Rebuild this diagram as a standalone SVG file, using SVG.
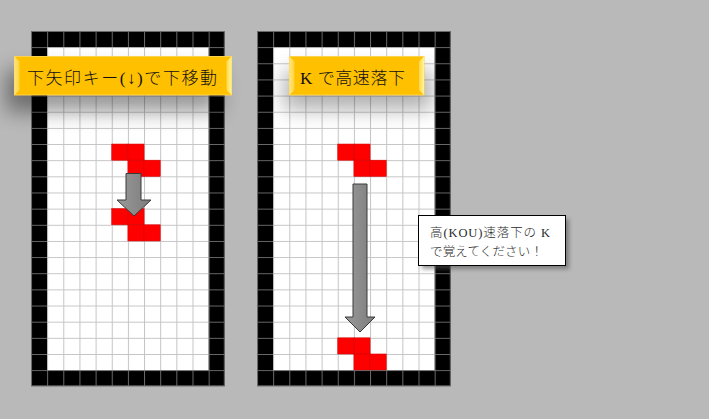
<svg xmlns="http://www.w3.org/2000/svg" width="709" height="419" viewBox="0 0 709 419">
  <defs>
    <style>
      .jp { font-family: "Liberation Serif", "Noto Sans CJK JP", serif; font-weight: 300; fill: #111; }
      .banner-txt { font-size: 17px; }
      .note-txt { font-size: 12.5px; fill: #2a2a2a; }
      .red { fill: #ff0000; stroke: #d40000; stroke-width: 0.6; }
      .arrow { fill: url(#arrowGrad); stroke: #3a3a3a; stroke-width: 1; }
      .banner { fill: #ffc000; stroke: #ffd24d; stroke-width: 1; }
    </style>
    <pattern id="grid" width="16.15" height="16.15" patternUnits="userSpaceOnUse">
      <rect width="16.15" height="16.15" fill="#ffffff"/>
      <path d="M0 0.5H16.15M0.5 0V16.15" stroke="#c4c4c4" stroke-width="1" fill="none"/>
    </pattern>
    <pattern id="frame" width="16.15" height="16.15" patternUnits="userSpaceOnUse">
      <rect width="16.15" height="16.15" fill="#000000"/>
      <path d="M0 0.5H16.15M0.5 0V16.15" stroke="#6a6a6a" stroke-width="1" fill="none"/>
    </pattern>
    <linearGradient id="arrowGrad" x1="0" y1="0" x2="1" y2="0">
      <stop offset="0" stop-color="#9a9a9a"/>
      <stop offset="1" stop-color="#7c7c7c"/>
    </linearGradient>
    <linearGradient id="bevelL" x1="0" y1="0" x2="1" y2="0">
      <stop offset="0" stop-color="#ffe680"/>
      <stop offset="1" stop-color="#ffd23a"/>
    </linearGradient>
    <linearGradient id="bevelR" x1="0" y1="0" x2="1" y2="0">
      <stop offset="0" stop-color="#ffd84a"/>
      <stop offset="1" stop-color="#fff59a"/>
    </linearGradient>
    <filter id="softShadow" x="-30%" y="-80%" width="160%" height="260%">
      <feGaussianBlur stdDeviation="10"/>
    </filter>
    <filter id="boxShadow" x="-20%" y="-30%" width="140%" height="160%">
      <feGaussianBlur stdDeviation="2"/>
    </filter>
  </defs>

  <rect width="709" height="419" fill="#b9b9b9"/>

  <g id="board-left" transform="translate(31,31)">
    <rect width="193.8" height="355.3" fill="url(#grid)"/>
    <rect class="red" x="80.75" y="113.05" width="16.15" height="16.15"/>
    <rect class="red" x="96.9" y="113.05" width="16.15" height="16.15"/>
    <rect class="red" x="96.9" y="129.2" width="16.15" height="16.15"/>
    <rect class="red" x="113.05" y="129.2" width="16.15" height="16.15"/>
    <rect class="red" x="80.75" y="177.65" width="16.15" height="16.15"/>
    <rect class="red" x="96.9" y="177.65" width="16.15" height="16.15"/>
    <rect class="red" x="96.9" y="193.8" width="16.15" height="16.15"/>
    <rect class="red" x="113.05" y="193.8" width="16.15" height="16.15"/>
    <path fill="url(#frame)" fill-rule="evenodd" d="M0 0H193.8V355.3H0Z M16.15 16.15V339.15H177.65V16.15Z"/>
    <rect x="0.5" y="0.5" width="192.8" height="354.3" fill="none" stroke="#6a6a6a"/>
  </g>

  <g id="board-right" transform="translate(257,31)">
    <rect width="193.8" height="355.3" fill="url(#grid)"/>
    <rect class="red" x="80.75" y="113.05" width="16.15" height="16.15"/>
    <rect class="red" x="96.9" y="113.05" width="16.15" height="16.15"/>
    <rect class="red" x="96.9" y="129.2" width="16.15" height="16.15"/>
    <rect class="red" x="113.05" y="129.2" width="16.15" height="16.15"/>
    <rect class="red" x="80.75" y="306.85" width="16.15" height="16.15"/>
    <rect class="red" x="96.9" y="306.85" width="16.15" height="16.15"/>
    <rect class="red" x="96.9" y="323" width="16.15" height="16.15"/>
    <rect class="red" x="113.05" y="323" width="16.15" height="16.15"/>
    <path fill="url(#frame)" fill-rule="evenodd" d="M0 0H193.8V355.3H0Z M16.15 16.15V339.15H177.65V16.15Z"/>
    <rect x="0.5" y="0.5" width="192.8" height="354.3" fill="none" stroke="#6a6a6a"/>
  </g>

  <g id="arrows">
    <path class="arrow" d="M126 173.5H141V200H151L134 216L117 200H126Z"/>
    <path class="arrow" d="M353 184H367V317H375L360 332L345 317H353Z"/>
  </g>

  <g id="banner-left">
    <rect x="6" y="70" width="214" height="42" fill="#000" opacity="0.4" filter="url(#softShadow)"/>
    <rect class="banner" x="14.5" y="56.5" width="217" height="38.5"/>
    <polygon points="14.5,56.5 19.5,61.5 19.5,90 14.5,95" fill="url(#bevelL)"/>
    <polygon points="231.5,56.5 226.5,61.5 226.5,90 231.5,95" fill="url(#bevelR)"/>
    <text class="jp banner-txt" x="27" y="84" textLength="190" lengthAdjust="spacing">下矢印キー(↓)で下移動</text>
  </g>

  <g id="banner-right">
    <rect x="284" y="70" width="148" height="40" fill="#000" opacity="0.3" filter="url(#softShadow)"/>
    <rect class="banner" x="289.5" y="56.5" width="134.5" height="38.5"/>
    <polygon points="289.5,56.5 294.5,61.5 294.5,90 289.5,95" fill="url(#bevelL)"/>
    <polygon points="424,56.5 419,61.5 419,90 424,95" fill="url(#bevelR)"/>
    <text class="jp banner-txt" x="300" y="84" textLength="105" lengthAdjust="spacing">K で高速落下</text>
  </g>

  <g id="callout">
    <rect x="422" y="219" width="147" height="50" fill="#555" opacity="0.6" filter="url(#boxShadow)"/>
    <rect x="418.5" y="215.5" width="147" height="50" fill="#ffffff" stroke="#000" stroke-width="1"/>
    <text class="jp note-txt" x="430" y="237" textLength="120" lengthAdjust="spacing">高(KOU)速落下の K</text>
    <text class="jp note-txt" x="430" y="256" textLength="113" lengthAdjust="spacing">で覚えてください！</text>
  </g>
</svg>
